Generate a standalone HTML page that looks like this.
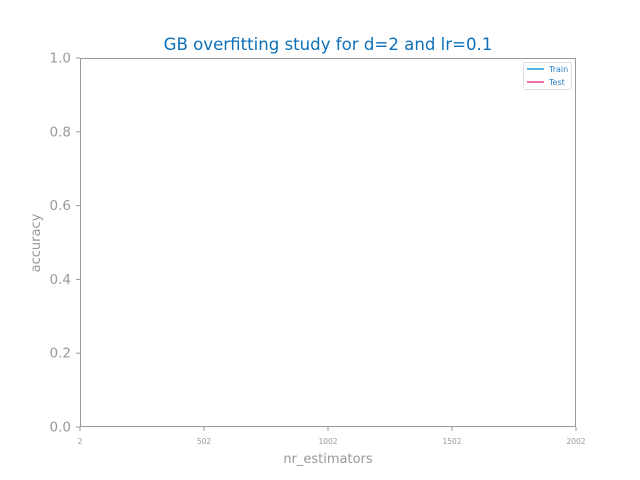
<!DOCTYPE html>
<html><head><meta charset="utf-8"><style>
body{margin:0;background:#fff;}
svg{display:block;font-family:"DejaVu Sans","Liberation Sans",sans-serif;}
</style></head><body>
<svg id="chart" width="640" height="480">
<rect width="640" height="480" fill="#fff"/>
<text x="328" y="50" text-anchor="middle" font-size="16.6" style="fill:#0e70b8">GB overfitting study for d=2 and lr=0.1</text>
<g id="axes"></g>
<g id="series"></g>
<g>
<rect x="523.5" y="62.5" width="48" height="27" rx="2" fill="#fff" stroke="#ddd"/>
<line x1="527" y1="69" x2="544" y2="69" stroke="#1f9ad6" stroke-width="1.5"/>
<text x="549" y="72" font-size="8" fill="#2a7fc0">Train</text>
<line x1="527" y1="82" x2="544" y2="82" stroke="#e8408c" stroke-width="1.5"/>
<text x="549" y="85" font-size="8" fill="#2a7fc0">Test</text>
</g>
<text x="328" y="463" text-anchor="middle" font-size="13" fill="#999">nr_estimators</text>
<text transform="translate(40,243) rotate(-90)" text-anchor="middle" font-size="13" fill="#999">accuracy</text>
</svg>
<script>
const xTicks=[2,502,1002,1502,2002];
const yTicks=[0,0.2,0.4,0.6,0.8,1.0];
const xValues=[];
const trainValues=[];
const testValues=[];
const X0=80,X1=576,Y0=427,Y1=58;
function sx(v){return X0+(v-2)/(2002-2)*(X1-X0);}
function sy(v){return Y0-v*(Y0-Y1);}
const NS="http://www.w3.org/2000/svg";
const ax=document.getElementById('axes');
function mk(t,a,p){const e=document.createElementNS(NS,t);for(const k in a)e.setAttribute(k,a[k]);(p||ax).appendChild(e);return e;}
const fr=mk('rect',{x:X0+0.5,y:Y1+0.5,width:X1-X0-1,height:Y0-Y1-1,fill:'none',stroke:'#999',"stroke-width":1});


xTicks.forEach(v=>{
 const x=sx(v);
 const l=mk('line',{x1:x,y1:Y0,x2:x,y2:Y0+4,stroke:'#999'});
 
 
 const t=mk('text',{x:x,y:Y0+17,"text-anchor":"middle","font-size":"7.5",fill:'#999'});
 t.textContent=v;
 
 
});
yTicks.forEach(v=>{
 const y=sy(v);
 const l=mk('line',{x1:X0-4,y1:y,x2:X0,y2:y,stroke:'#999'});
 
 
 const t=mk('text',{x:X0-9,y:y+4.5,"text-anchor":"end","font-size":"13.5",fill:'#999'});
 t.textContent=v.toFixed(1);
 
 
});
const sg=document.getElementById('series');
function line(vals,color,name){
 if(!vals.length)return;
 const p=mk('polyline',{points:vals.map((v,i)=>sx(xValues[i])+','+sy(v)).join(' '),fill:'none',stroke:color,"stroke-width":1.5},sg);
 
 
}
line(trainValues,'#1f9ad6','train-line');
line(testValues,'#e8408c','test-line');
</script>
</body></html>
